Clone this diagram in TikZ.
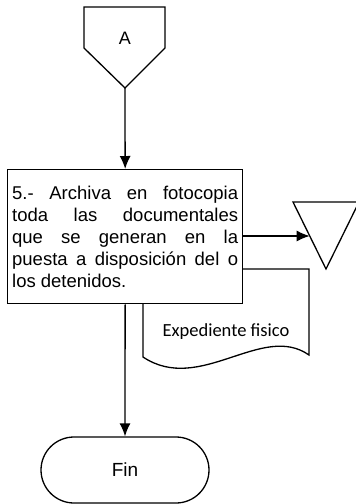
\documentclass[tikz,border=0pt]{standalone}
\usepackage{fontspec}
\setmainfont{Liberation Sans}
\newfontfamily\calib{Carlito}
\usetikzlibrary{arrows.meta}
\begin{document}
\begin{tikzpicture}[x=1pt,y=-1pt,line width=1.3pt,
  shp/.style={draw=black,fill=white,line join=miter},
  conn/.style={draw=black,-{Latex[length=13pt,width=11pt]}},
  lbl/.style={font=\fontsize{18}{22}\selectfont,inner sep=0pt}]
\useasboundingbox (0,0) rectangle (356,504);
% off-page connector A
\draw[shp] (84,7) -- (165,7) -- (165,48) -- (125,88) -- (84,48) -- cycle;
\node[lbl] (A) at (125,38) {A};
\coordinate (Atip) at (125,88);
% document (behind box)
\draw[shp] (143,269) -- (309,269) -- (309,355)
  .. controls (262,322) and (200,395) .. (143,357) -- cycle;
\node[font=\calib\fontsize{18.5}{22}\selectfont,inner sep=0pt] (doc) at (226,332) {Expediente fisico};
% process box
\node[shp,minimum width=235pt,minimum height=134pt,inner sep=0pt,
  text width=226pt,align=justify,font=\fontsize{18.5}{22}\selectfont,anchor=north west]
  (box) at (7,169) {\hyphenpenalty=10000 5.- Archiva en fotocopia\linebreak toda las documentales\linebreak que se generan en la\linebreak puesta a disposición del o\linebreak los detenidos.};
% storage triangle
\draw[shp] (293,202) -- (359,202) -- (326,269) -- cycle;
\coordinate (tri) at (309.7,236);
% terminal
\node[shp,rounded corners=33pt,minimum width=168pt,minimum height=66pt,inner sep=0pt,
  font=\fontsize{19}{22}\selectfont] (fin) at (125,470) {Fin};
% connectors
\draw[conn] (Atip) -- (box.north);
\draw[conn] (box.east |- tri) -- (tri);
\draw[conn] (box.south) -- (fin.north);
\end{tikzpicture}
\end{document}
